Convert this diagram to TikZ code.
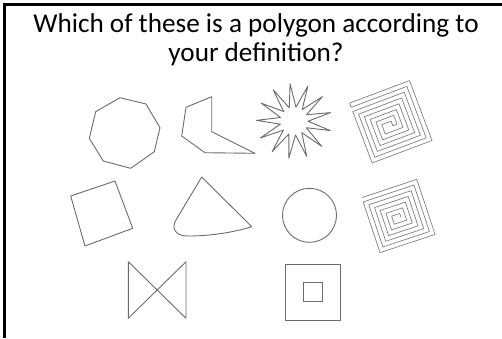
\documentclass[tikz,border=0pt]{standalone}
\usepackage{fontspec}
\setmainfont{Carlito}
\begin{document}
\begin{tikzpicture}[x=1pt,y=-1pt,
  shp/.style={draw=black!58, line width=0.9pt, line join=round},
  thin shp/.style={draw=black!50, line width=0.7pt, line join=round},
  ttl/.style={anchor=base, font=\fontsize{27.2}{29}\selectfont, inner sep=0pt}]
\useasboundingbox (0,0) rectangle (502,338);
% frame
\draw[line width=2.3pt] (4.5,338) -- (4.5,4.5) -- (502,4.5);
% title
\node[ttl] (t1) at (256,32) {Which of these is a polygon according to};
\node[ttl] (t2) at (256,61) {your definition?};
% octagon
\draw[shp] (120,97.7) -- (146,104) -- (160,127.7) -- (154.3,151.7) -- (130.7,168.3) -- (103.3,161) -- (89.3,138.3) -- (95.7,111.7) -- cycle;
% concave hexagon
\draw[shp] (186,107.3) -- (211.7,96.7) -- (211.7,131.7) -- (255,153.3) -- (205,152.7) -- (181.7,136) -- cycle;
% star
\begin{scope}[shift={(294,121)}, yscale=-1]
\draw[shp] (96:37.5) \foreach \i in {1,...,13}{ -- ({96+(\i-0.5)*360/13}:14) -- ({96+\i*360/13}:37.5) } -- cycle;
\end{scope}
% spiral strip (closed)
\begin{scope}[shift={(390.8,121.8)}, rotate=20.6, yscale=-1]
\draw[thin shp] (-32,32) -- (32,32) -- (32,-32) -- (-32,-32) -- (-32,23) -- (23,23) -- (23,-23) -- (-23,-23) -- (-23,14) -- (14,14) -- (14,-14) -- (-14,-14) -- (-14,5) -- (5,5) -- (5,-4.5) -- (0.5,-4.5) -- (0.5,0.5) -- (-9.5,0.5) -- (-9.5,-9.5) -- (9.5,-9.5) -- (9.5,9.5) -- (-18.5,9.5) -- (-18.5,-18.5) -- (18.5,-18.5) -- (18.5,18.5) -- (-27.5,18.5) -- (-27.5,-27.5) -- (27.5,-27.5) -- (27.5,27.5) -- (-32,27.5) -- cycle;
\end{scope}
% square
\draw[shp] (70.7,196) -- (115,181) -- (132.7,228.3) -- (85,246) -- cycle;
% triangle with curved side
\draw[shp] (201.7,177) -- (176,220) .. controls (171,228) and (175,236) .. (188,236) .. controls (215,236) and (238,231) .. (251.7,226.7) -- cycle;
% circle
\draw[shp] (309.5,215.3) circle[radius=27];
% open spiral
\begin{scope}[shift={(398.4,216)}, rotate=18.4, yscale=-1]
\draw[thin shp] (-29,29) -- (29,29) -- (29,-29) -- (-29,-29) -- (-29,24.5) -- (24.5,24.5) -- (24.5,-24.5) -- (-24.5,-24.5) -- (-24.5,20) -- (20,20) -- (20,-20) -- (-20,-20) -- (-20,15.5) -- (15.5,15.5) -- (15.5,-15.5) -- (-15.5,-15.5) -- (-15.5,11) -- (11,11) -- (11,-11) -- (-11,-11) -- (-11,6.5) -- (6.5,6.5) -- (6.5,-6.5) -- (-6.5,-6.5) -- (-6.5,2) -- (2,2) -- (2,-2);
\end{scope}
% bowtie
\draw[shp] (128.3,261.7) -- (186,318.3) -- (186,261.7) -- (128.3,318.3) -- cycle;
% square with hole
\draw[shp] (285,264) rectangle (340.7,320);
\draw[shp] (303.3,282.3) rectangle (322.3,301);
\end{tikzpicture}
\end{document}
